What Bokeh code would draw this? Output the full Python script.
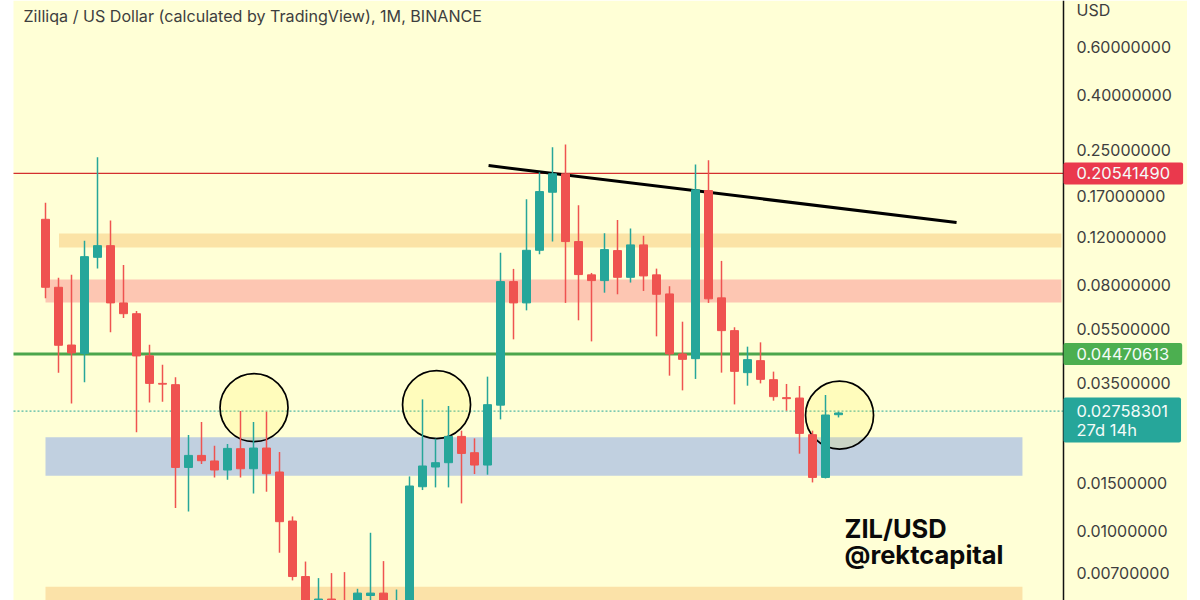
from bokeh.plotting import figure
from bokeh.models import Range1d, FixedTicker, NumeralTickFormatter, Label, ColumnDataSource
from bokeh.embed import file_html
from bokeh.resources import INLINE

# ---------- data (monthly candles, price in USD) ----------
opens = [.1394,.0785,.0482,.0449,.1011,.1116,.0688,.0628,.0440,.03486,
         .03449,.01714,.01897,.01810,.01677,.02008,.01695,.02019,.01649,.0109,
         .00682,.0049,.00564,.0054,.0051,.00581,.00593,.0050,.0051,.01456,
         .0172,.01784,.02228,.01941,.01749,.02901,.08236,.0688,.1073,.1752,
         .2047,.1155,.0872,.08306,.1070,.0854,.1123,.0872,.0742,.0447,
         .04296,.1777,.0718,.05443,.03817,.04224,.03597,.0309,.0308,.0226,
         .01575,.02676]
closes = [.0785,.0481,.0451,.1017,.1116,.0688,.0628,.04396,.03486,.03464,
          .01714,.01897,.01814,.01677,.02013,.01695,.02019,.01625,.01084,.00682,
          .0049,.00564,.0051,.0050,.00593,.00593,.0052,.0054,.01465,.01735,
          .01784,.02228,.01929,.01749,.02912,.08236,.0688,.1073,.1762,.2047,
          .1155,.0874,.08306,.1079,.0854,.1123,.0864,.0740,.0447,.04271,
          .1788,.0712,.05443,.03859,.0426,.03607,.03116,.03064,.02285,.01575,
          .02669,.02715]
highs = [.1602,.0850,.0872,.1162,.2355,.1379,.0948,.0642,.04836,.04084,
         .03668,.02255,.02516,.02059,.02089,.02761,.02516,.02745,.01952,.01133,
         .00774,.00673,.00702,.00708,.00615,.00987,.00777,.00611,.01589,.03046,
         .02185,.0288,.02338,.02191,.0369,.1050,.0917,.1651,.2075,.2563,
         .2622,.1570,.0886,.1239,.1387,.1289,.1212,.0919,.0792,.0587,
         .2214,.2296,.0981,.0560,.04754,.0493,.0385,.03469,.0341,.02338,
         .03161,.02745]
lows = [.0715,.0381,.02944,.03516,.0919,.05365,.0606,.02305,.02969,.02987,
        .01216,.01182,.01764,.01575,.01545,.01575,.01376,.01396,.00834,.00660,
        .0044,.0046,.0047,.0047,.0047,.0050,.0048,.0047,.0048,.01416,
        .01448,.01448,.01265,.01621,.01612,.02572,.05057,.0646,.1037,.1155,
        .0688,.0594,.0497,.0750,.0740,.0817,.0761,.05187,.03721,.03286,
        .03619,.0688,.03817,.02919,.03419,.03486,.03012,.02768,.01925,.0151,
        .01562,.02615]

tick_values = [0.6, 0.4, 0.25, 0.17, 0.12, 0.08, 0.055, 0.035, 0.015, 0.01, 0.007]
resistance_price = 0.2054149
support_price = 0.04470613
last_price = 0.02758301

zone_low = [.10977, .06896, .01598, .004]
zone_high = [.12357, .08376, .02213, .00625]
zone_left = [1.04, 0.0, 0.0, 0.0]
zone_right = [78.15, 78.15, 75.15, 75.15]
zone_colors = ["#FBE3A6", "#FDC6B2", "#C1D0E0", "#FBE2A8"]

circle_idx = [16.04, 30.08, 61.08]
circle_price = [.02839, .02912, .02665]

trend_idx = [34.08, 70.08]
trend_price = [.2195, .1356]

TITLE = "Zilliqa / US Dollar (calculated by TradingView), 1M, BINANCE"

# ---------- layout: pixel positions of the reference mapped through the axes ----------
BG = "#FFFFD6"
TEAL = "#26A69A"
RED = "#EF5350"
TXT = "#3E3E3E"
FONT = "Inter"
STEP = 13.0
X0 = 45.0


def xd(px):
    return (px - X0) / STEP


def yd(py):
    return 10 ** (-0.0531 - 0.0036684 * py)


p = figure(width=1187, height=600, output_backend="svg", toolbar_location=None,
           x_axis_location=None, y_axis_location="right", y_axis_type="log",
           x_range=Range1d(xd(0), xd(1187)), y_range=Range1d(yd(600), yd(0)),
           min_border=0, background_fill_color="white", border_fill_color="white",
           outline_line_color=None)
p.grid.visible = False

ax = p.yaxis[0]
ax.fixed_location = xd(1063)
ax.ticker = FixedTicker(ticks=tick_values)
ax.formatter = NumeralTickFormatter(format="0.00000000")
ax.major_tick_line_color = None
ax.minor_tick_line_color = None
ax.major_tick_out = 0
ax.minor_tick_out = 0
ax.major_label_standoff = 13
ax.major_label_text_font = FONT
ax.major_label_text_font_size = "16px"
ax.major_label_text_color = TXT
ax.axis_line_color = "#111111"
ax.axis_line_width = 1.5

# background
p.quad(left=[xd(13)], right=[xd(1187)], top=[yd(0)], bottom=[yd(600)],
       fill_color=BG, line_color=None)

# zones
p.quad(left=zone_left, right=zone_right, bottom=zone_low, top=zone_high,
       fill_color=zone_colors, line_color=None)

# horizontal levels
p.line([xd(13), xd(1063)], [resistance_price] * 2, line_color="#D32F2F", line_width=1.3)
p.line([xd(13), xd(1063)], [support_price] * 2, line_color="#4CA64C", line_width=3)
p.line([xd(13), xd(1063)], [last_price] * 2, line_color=TEAL, line_width=1, line_dash="2 2")

# trend line
p.line(trend_idx, trend_price, line_color="black", line_width=3)

# circles
p.scatter(circle_idx, circle_price, marker="circle", size=68,
          fill_color="#FFEB3B", fill_alpha=0.16, line_color="black", line_width=1.7)

# candles
idx = list(range(len(opens)))
colors = [TEAL if c >= o else RED for o, c in zip(opens, closes)]
src = ColumnDataSource(dict(x=idx, o=opens, c=closes, h=highs, l=lows, col=colors,
                            top=[max(a, b) for a, b in zip(opens, closes)],
                            bot=[min(a, b) for a, b in zip(opens, closes)]))
p.segment("x", "h", "x", "l", source=src, line_color="col", line_width=1.5)
p.vbar("x", width=8 / STEP, top="top", bottom="bot", source=src,
       fill_color="col", line_color="col", line_width=1)

# texts
p.add_layout(Label(x=xd(23), y=yd(15.5), text=TITLE, text_font=FONT, text_font_size="16.1px",
                   text_color=TXT, text_align="left", text_baseline="middle"))
p.add_layout(Label(x=xd(844), y=yd(528), text="ZIL/USD", text_font=FONT, text_font_size="25.5px",
                   text_font_style="bold", text_color="#0A0A0A", text_align="left",
                   text_baseline="middle"))
p.add_layout(Label(x=xd(844), y=yd(553.5), text="@rektcapital", text_font=FONT, text_font_size="25.5px",
                   text_font_style="bold", text_color="#0A0A0A", text_align="left",
                   text_baseline="middle"))
p.add_layout(Label(x=xd(1076), y=yd(9), text="USD", text_font=FONT, text_font_size="16px",
                   text_color=TXT, text_align="left", text_baseline="middle"))


def tag(price_y, text, color, pad=(13, 13, 5, 5), lh=1.2):
    p.add_layout(Label(x=xd(1063), y=price_y, text=text, text_font=FONT, text_font_size="16.5px",
                       text_color="#F4FBF8", text_align="left", text_baseline="middle",
                       text_line_height=lh,
                       background_fill_color=color, background_fill_alpha=1,
                       padding=pad, border_radius=2))


tag(resistance_price, f"{resistance_price:.8f}", "#EA394D")
tag(support_price, f"{support_price:.8f}", "#4CAF50")
tag(yd(419.5), f"{last_price:.8f}\n27d 14h", TEAL, pad=(13, 13, 3, 3), lh=0.95)

open("out.html", "w").write(file_html(p, INLINE))
